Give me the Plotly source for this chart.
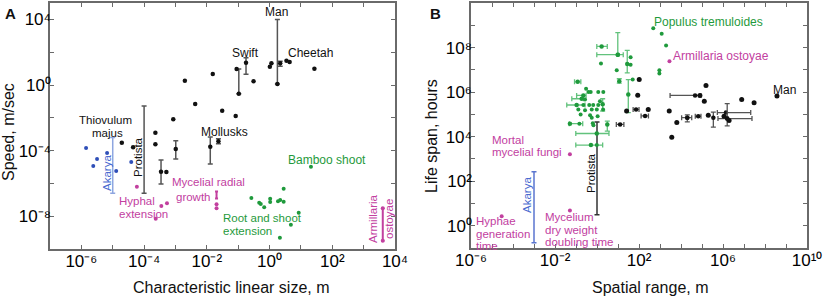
import plotly.graph_objects as go

W, H = 827, 300
FONT = "Liberation Sans, Arial, sans-serif"
BLACK = "#111111"
BAR_BLACK = "#555555"
GREEN = "#1f9a3c"
BAR_GREEN = "#62c27c"
BLUE = "#2f4fb8"
BAR_BLUE = "#8ea6e0"
MAGENTA = "#c2409f"

# ---------------- Panel A (log10 exponents) ----------------
a_black_x = [-4.71, -4.35, -3.64, -3.64, -3.29, -3.07, -2.70, -2.37, -1.81, -1.51, -1.08, -1.05, -0.51, 0.01, 0.06, 0.54, 0.64, 1.43]
a_black_y = [-3.52, -3.80, -2.91, -3.62, -5.30, -2.09, 0.26, -1.16, 0.67, -1.57, -1.89, 0.98, 0.23, 1.12, 1.32, 1.48, 1.40, 0.99]
a_blackbar_x = [-3.46, -2.99, -1.89, -1.63, -0.98, -0.75, 0.25, 0.34]
a_blackbar_y = [-5.29, -3.90, -3.76, -3.43, -0.53, 1.36, 0.06, 1.32]
a_blackbar_lo = [-6.04, -4.51, -4.82, -3.58, -0.53, 0.65, 0.06, 1.15]
a_blackbar_hi = [-4.57, -3.40, -3.17, -3.27, 0.98, 1.66, 4.00, 1.45]
a_protista_x = [-4.0]
a_protista_lo = [-6.6]
a_protista_hi = [-1.28]
a_blue_x = [-5.85, -5.62, -5.50, -5.18, -4.89, -4.41]
a_blue_y = [-3.84, -4.94, -4.51, -4.15, -5.24, -4.70]
a_akarya_x = [-5.0]
a_akarya_lo = [-6.6]
a_akarya_hi = [-3.2]
a_mag_x = [-4.23, -3.45, -3.27, -3.63, -1.69, -1.69, 3.61, 3.61]
a_mag_y = [-6.20, -7.38, -7.21, -8.15, -7.27, -7.52, -7.52, -9.49]
a_magbar_x = [-1.69, 3.61]
a_magbar_lo = [-6.92, -9.49]
a_magbar_hi = [-6.50, -7.52]
a_green_x = [-0.58, -0.33, -0.28, -0.17, 0.02, 0.02, 0.27, 0.34, 0.45, 0.45, 0.93, 0.68, 0.33, 1.32]
a_green_y = [-6.89, -7.18, -7.26, -7.46, -6.93, -7.13, -7.09, -7.01, -6.32, -7.12, -7.79, -8.52, -9.31, -4.98]

# ---------------- Panel B (log10 exponents) ----------------
b_black_x = [2.01, 1.94, 1.41, 2.44, 3.44, 5.19, 4.90, 5.11, 3.80, 3.56, 5.30, 6.89, 7.48, 8.57, 6.05, 6.29]
b_black_y = [6.56, 5.86, 5.15, 5.22, 5.15, 6.30, 5.85, 5.59, 4.63, 3.97, 4.96, 5.67, 5.52, 5.82, 4.91, 4.73]
b_blackh_x = [1.86, 2.29, 1.10, 4.67, 6.14, 4.82]
b_blackh_y = [5.22, 4.93, 4.55, 5.85, 5.08, 4.92]
b_blackh_lo = [1.72, 2.10, 0.92, 3.48, 5.73, 4.68]
b_blackh_hi = [2.00, 2.45, 1.28, 4.95, 7.32, 4.95]
b_blackv_x = [5.54, 4.30, 6.20]
b_blackv_y = [4.85, 4.85, 4.81]
b_blackv_lo = [4.43, 4.66, 4.48]
b_blackv_hi = [5.10, 4.98, 5.48]
b_blackhv_x = [4.30, 6.20]
b_blackhv_y = [4.85, 4.81]
b_blackhv_lo = [4.03, 5.76]
b_blackhv_hi = [4.51, 7.38]
b_protista_x = [0.0]
b_protista_lo = [0.49]
b_protista_hi = [4.66]
b_green_x = [0.19, 1.60, 1.60, 0.94, 1.70, -0.52, -0.41, -0.30, 0.06, 0.30, -0.57, 0.14, -0.65, -0.37, -0.18, 0.06,
             -0.89, -0.57, -0.25, -0.01, 0.29, -0.78, -0.33, -0.25, 0.03, -0.84, -0.20, -0.17, -0.01,
             2.68, 3.08, 3.29, 2.97, 2.97]
b_green_y = [7.28, 7.56, 7.23, 6.98, 6.56, 6.15, 6.00, 6.00, 6.00, 6.00, 5.67, 5.59, 5.42, 5.42, 5.42, 5.42,
             5.22, 5.19, 5.22, 5.22, 5.22, 4.99, 4.96, 4.85, 4.92, 4.58, 4.60, 4.51, 3.62,
             8.87, 8.62, 8.09, 6.98, 6.83]
b_greenh_x = [0.22, -0.92, -0.65, -0.73, -0.97, -1.29, -0.01, -0.29, 0.99]
b_greenh_y = [8.05, 6.46, 5.85, 5.70, 5.42, 4.58, 4.14, 3.62, 7.68]
b_greenh_lo = [-0.01, -1.07, -0.97, -1.20, -1.44, -1.32, -1.01, -1.01, -0.01]
b_greenh_hi = [0.49, -0.77, -0.52, -0.65, -0.57, -0.68, 0.57, 0.27, 1.25]
b_greenv_x = [1.44, 1.06, 1.49, 0.27, 0.49, 0.99]
b_greenv_y = [7.26, 6.49, 5.89, 5.45, 4.55, 7.68]
b_greenv_lo = [6.86, 6.40, 5.08, 5.15, 4.25, 7.68]
b_greenv_hi = [7.87, 6.60, 6.56, 5.70, 4.70, 8.67]
b_mag_x = [3.45, -1.29, -4.54, -1.29]
b_mag_y = [7.38, 3.21, 0.42, 0.68]
b_akarya_x = [-3.0]
b_akarya_lo = [-0.76]
b_akarya_hi = [2.42]

# tick exponents
a_x_labels = [-6, -4, -2, 0, 2, 4]
a_x_minor = [-7, -5, -3, -1, 1, 3]
a_y_labels = [-8, -4, 0, 4]
a_y_minor = [-10, -6, -2, 2]
b_x_labels = [-6, -2, 2, 6, 10]
b_x_minor = [-5, -4, -3, -1, 0, 1, 3, 4, 5, 7, 8, 9]
b_y_labels = [0, 2, 4, 6, 8]
b_y_minor = [-1, 1, 3, 5, 7, 9, 10]

SUP = str.maketrans("0123456789-", "⁰¹²³⁴⁵⁶⁷⁸⁹⁻")


def p(v):
    return [10 ** e for e in v]


def err(c, lo, hi):
    return dict(type="data", symmetric=False,
                array=[10 ** h - 10 ** m for m, h in zip(c, hi)],
                arrayminus=[10 ** m - 10 ** l for m, l in zip(c, lo)])


fig = go.Figure()


def pts(xs, ys, color, xa, ya, size=4.5):
    fig.add_trace(go.Scatter(x=p(xs), y=p(ys), mode="markers", xaxis=xa, yaxis=ya,
                             marker=dict(size=size, color=color), showlegend=False, hoverinfo="skip"))


def vbars(xs, ys, lo, hi, color, xa, ya, mcolor=None, thick=1.5, cap=2.5):
    e = err(ys, lo, hi)
    e.update(color=color, thickness=thick, width=cap)
    fig.add_trace(go.Scatter(x=p(xs), y=p(ys), mode="markers", xaxis=xa, yaxis=ya, error_y=e,
                             marker=dict(size=4.5 if mcolor else 1, color=mcolor or "rgba(0,0,0,0)"),
                             showlegend=False, hoverinfo="skip"))


def hbars(xs, ys, lo, hi, color, xa, ya, mcolor, thick=1.3, cap=2.5):
    e = err(xs, lo, hi)
    e.update(color=color, thickness=thick, width=cap)
    fig.add_trace(go.Scatter(x=p(xs), y=p(ys), mode="markers", xaxis=xa, yaxis=ya, error_x=e,
                             marker=dict(size=4.5, color=mcolor), showlegend=False, hoverinfo="skip"))


# Panel A traces
vbars(a_protista_x, a_protista_lo, a_protista_lo, a_protista_hi, BAR_BLACK, "x", "y")
vbars(a_akarya_x, a_akarya_lo, a_akarya_lo, a_akarya_hi, BAR_BLUE, "x", "y")
vbars(a_blackbar_x, a_blackbar_y, a_blackbar_lo, a_blackbar_hi, BAR_BLACK, "x", "y", mcolor=BLACK)
vbars(a_magbar_x, a_magbar_lo, a_magbar_lo, a_magbar_hi, MAGENTA, "x", "y", thick=2, cap=1.5)
pts(a_black_x, a_black_y, BLACK, "x", "y")
pts(a_blue_x, a_blue_y, BLUE, "x", "y", 4)
pts(a_mag_x, a_mag_y, MAGENTA, "x", "y", 4)
pts(a_green_x, a_green_y, GREEN, "x", "y", 4)

# Panel B traces
vbars(b_protista_x, b_protista_lo, b_protista_lo, b_protista_hi, "#333333", "x2", "y2")
vbars(b_akarya_x, b_akarya_lo, b_akarya_lo, b_akarya_hi, "#5b76cf", "x2", "y2")
hbars(b_greenh_x, b_greenh_y, b_greenh_lo, b_greenh_hi, BAR_GREEN, "x2", "y2", GREEN)
vbars(b_greenv_x, b_greenv_y, b_greenv_lo, b_greenv_hi, BAR_GREEN, "x2", "y2", mcolor=GREEN, thick=1.3)
pts(b_green_x, b_green_y, GREEN, "x2", "y2", 4)
hbars(b_blackh_x, b_blackh_y, b_blackh_lo, b_blackh_hi, BAR_BLACK, "x2", "y2", BLACK)
hbars(b_blackhv_x, b_blackhv_y, b_blackhv_lo, b_blackhv_hi, BAR_BLACK, "x2", "y2", BLACK)
vbars(b_blackv_x, b_blackv_y, b_blackv_lo, b_blackv_hi, BAR_BLACK, "x2", "y2", mcolor=BLACK, thick=1.3)
pts(b_black_x, b_black_y, BLACK, "x2", "y2", 5)
pts(b_mag_x, b_mag_y, MAGENTA, "x2", "y2", 4)

AX = "#6a6a6a"


def axis(rng, domain, labels, minor, anchor, standoff):
    return dict(type="log", range=rng, domain=domain, anchor=anchor, automargin=False,
                showgrid=False, zeroline=False, showline=True, linecolor=AX, linewidth=1.5,
                mirror="ticks", ticks="inside", ticklen=4, tickcolor=AX, tickwidth=1.2,
                ticklabelstandoff=standoff,
                tickmode="array", tickvals=p(labels), ticktext=["10" + str(k).translate(SUP) for k in labels],
                tickfont=dict(family=FONT, size=17, color="#000"),
                minor=dict(tickmode="array", tickvals=p(minor), ticks="inside", ticklen=4,
                           tickcolor=AX, tickwidth=1.2, showgrid=False))


fig.update_layout(
    width=W, height=H, margin=dict(l=0, r=0, t=0, b=0, autoexpand=False),
    paper_bgcolor="white", plot_bgcolor="white",
    font=dict(family=FONT, color="#000"),
    xaxis=axis([-7, 4], [50 / W, 395 / W], a_x_labels, a_x_minor, "y", -4),
    yaxis=axis([-10, 5], [1 - 249 / H, 1 - 3 / H], a_y_labels, a_y_minor, "x", -6),
    xaxis2=axis([-6, 10], [471 / W, 807 / W], b_x_labels, b_x_minor, "y2", -4),
    yaxis2=axis([-1, 10], [1 - 248 / H, 1 - 3 / H], b_y_labels, b_y_minor, "x2", -6),
)


def label(text, px, py, color=BLACK, size=11.5, anchor="center", angle=0, bold=False):
    fig.add_annotation(text=("<b>%s</b>" % text) if bold else text, x=px / W, y=1 - py / H,
                       xref="paper", yref="paper", showarrow=False, xanchor=anchor, yanchor="middle",
                       textangle=angle, borderpad=0, font=dict(family=FONT, size=size, color=color))


# Panel A labels
label("A", 10, 14, size=15, bold=True)
label("Man", 276, 12, size=12)
label("Swift", 245, 53, size=12)
label("Cheetah", 310, 53, size=12)
label("Thiovulum", 105, 120.5)
label("majus", 107, 133)
label("Mollusks", 224, 132, size=12)
label("Protista", 138, 157, angle=-90)
label("Akarya", 107, 173, color="#4a6ad0", angle=-90)
label("Hyphal", 118, 201, color=MAGENTA, anchor="left")
label("extension", 118, 213.5, color=MAGENTA, anchor="left")
label("Mycelial radial", 171, 182, color=MAGENTA, anchor="left")
label("growth", 175, 197, color=MAGENTA, anchor="left")
label("Bamboo shoot", 327, 160, color=GREEN, size=12)
label("Root and shoot", 222, 218, color=GREEN, anchor="left")
label("extension", 222, 230.5, color=GREEN, anchor="left")
label("Armillaria", 373, 219, color=MAGENTA, angle=-90)
label("ostoyae", 389, 219, color=MAGENTA, angle=-90)
label("Speed, m/sec", 9, 132, size=16, angle=-90)
label("Characteristic linear size, m", 231, 287, size=16)

# Panel B labels
label("B", 436, 14, size=15, bold=True)
label("Populus tremuloides", 653, 22, color=GREEN, size=12, anchor="left")
label("Armillaria ostoyae", 672, 56, color=MAGENTA, size=12, anchor="left")
label("Man", 784, 90, size=12)
label("Mortal", 491, 139.5, color=MAGENTA, anchor="left")
label("mycelial fungi", 491, 152, color=MAGENTA, anchor="left")
label("Protista", 591, 173, angle=-90)
label("Akarya", 527, 195, color="#4a6ad0", angle=-90)
label("Hyphae", 475, 221, color=MAGENTA, anchor="left")
label("generation", 475, 233.5, color=MAGENTA, anchor="left")
label("time", 475, 246, color=MAGENTA, anchor="left")
label("Mycelium", 544, 217, color=MAGENTA, anchor="left")
label("dry weight", 544, 229.5, color=MAGENTA, anchor="left")
label("doubling time", 544, 242, color=MAGENTA, anchor="left")
label("Life span, hours", 431, 136, size=16, angle=-90)
label("Spatial range, m", 650, 287, size=16)

fig.write_html("out.html", config={"displayModeBar": False},
               post_script="document.body.style.margin='0';document.body.style.overflow='hidden';")
